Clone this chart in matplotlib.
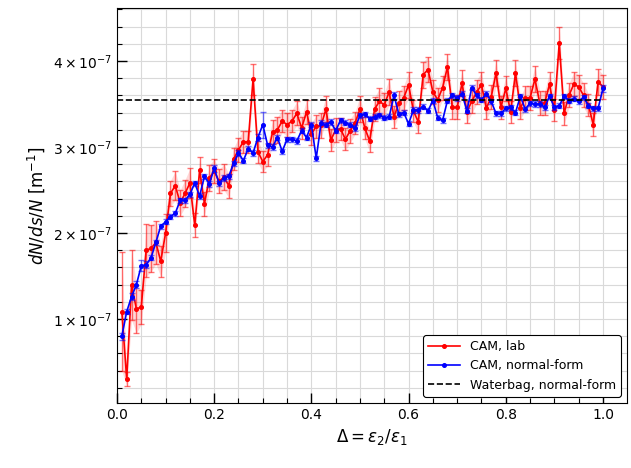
import numpy as np
import matplotlib
matplotlib.use("Agg")
import matplotlib.pyplot as plt
from matplotlib.ticker import MultipleLocator, FuncFormatter

# Delta values
delta = [i / 100 for i in range(1, 101)]

# CAM, lab (units of 1e-7 m^-1)
cam_lab = [1.085, 0.30, 1.395, 1.116, 1.14, 1.80, 1.82, 1.89, 1.67, 2.00,
           2.46, 2.55, 2.35, 2.46, 2.58, 2.09, 2.73, 2.34, 2.64, 2.72,
           2.60, 2.65, 2.55, 2.86, 2.965, 3.06, 3.06, 3.79, 2.945, 2.83,
           2.91, 3.17, 3.20, 3.30, 3.26, 3.30, 3.39, 3.22, 3.41, 3.15,
           3.24, 3.25, 3.44, 3.08, 3.20, 3.21, 3.09, 3.19, 3.28, 3.44,
           3.22, 3.07, 3.44, 3.53, 3.49, 3.64, 3.35, 3.51, 3.57, 3.72,
           3.42, 3.29, 3.84, 3.90, 3.64, 3.55, 3.69, 3.93, 3.46, 3.46,
           3.74, 3.41, 3.53, 3.64, 3.72, 3.45, 3.58, 3.86, 3.46, 3.68,
           3.41, 3.86, 3.45, 3.57, 3.57, 3.79, 3.51, 3.51, 3.73, 3.43,
           4.21, 3.39, 3.60, 3.73, 3.70, 3.60, 3.49, 3.26, 3.76, 3.70]
cam_lab_err = [0.69, 0.08, 0.41, 0.28, 0.20, 0.31, 0.27, 0.25, 0.18, 0.22,
               0.15, 0.17, 0.15, 0.16, 0.17, 0.14, 0.15, 0.14, 0.15, 0.14,
               0.14, 0.15, 0.14, 0.13, 0.14, 0.13, 0.13, 0.18, 0.13, 0.12,
               0.13, 0.14, 0.15, 0.13, 0.14, 0.13, 0.14, 0.13, 0.14, 0.13,
               0.13, 0.14, 0.15, 0.13, 0.14, 0.13, 0.13, 0.14, 0.13, 0.15,
               0.13, 0.13, 0.14, 0.15, 0.14, 0.15, 0.13, 0.14, 0.14, 0.15,
               0.13, 0.13, 0.15, 0.15, 0.14, 0.14, 0.14, 0.15, 0.13, 0.14,
               0.15, 0.13, 0.14, 0.14, 0.15, 0.13, 0.14, 0.15, 0.13, 0.14,
               0.13, 0.15, 0.13, 0.14, 0.14, 0.15, 0.14, 0.14, 0.14, 0.13,
               0.19, 0.13, 0.14, 0.14, 0.14, 0.14, 0.13, 0.13, 0.15, 0.14]

# CAM, normal-form (units of 1e-7 m^-1)
cam_nf = [0.80, 1.085, 1.26, 1.40, 1.62, 1.63, 1.71, 1.89, 2.08, 2.13,
          2.19, 2.23, 2.38, 2.38, 2.45, 2.58, 2.43, 2.66, 2.57, 2.75,
          2.58, 2.64, 2.66, 2.81, 2.93, 2.84, 2.98, 2.93, 3.11, 3.26,
          3.02, 3.00, 3.11, 2.95, 3.09, 3.09, 3.07, 3.19, 3.11, 3.26,
          2.87, 3.28, 3.26, 3.29, 3.19, 3.31, 3.28, 3.26, 3.22, 3.37,
          3.38, 3.33, 3.35, 3.37, 3.34, 3.35, 3.60, 3.38, 3.40, 3.27,
          3.43, 3.43, 3.47, 3.42, 3.54, 3.34, 3.31, 3.54, 3.60, 3.57,
          3.62, 3.42, 3.69, 3.60, 3.55, 3.62, 3.53, 3.39, 3.39, 3.45,
          3.46, 3.40, 3.59, 3.44, 3.51, 3.50, 3.50, 3.46, 3.59, 3.46,
          3.48, 3.59, 3.54, 3.56, 3.53, 3.58, 3.48, 3.45, 3.45, 3.68]
cam_nf_err = [0.04, 0.03, 0.04, 0.04, 0.06, 0.04, 0.03, 0.03, 0.03, 0.03,
              0.03, 0.03, 0.03, 0.03, 0.03, 0.03, 0.03, 0.03, 0.03, 0.04,
              0.03, 0.03, 0.03, 0.03, 0.03, 0.03, 0.03, 0.03, 0.04, 0.15,
              0.03, 0.03, 0.03, 0.03, 0.03, 0.03, 0.03, 0.03, 0.03, 0.03,
              0.03, 0.03, 0.03, 0.03, 0.03, 0.03, 0.03, 0.03, 0.03, 0.03,
              0.03, 0.03, 0.03, 0.03, 0.03, 0.03, 0.04, 0.03, 0.03, 0.03,
              0.03, 0.03, 0.03, 0.03, 0.03, 0.03, 0.03, 0.03, 0.03, 0.03,
              0.03, 0.03, 0.03, 0.03, 0.03, 0.03, 0.03, 0.03, 0.03, 0.03,
              0.03, 0.03, 0.03, 0.03, 0.03, 0.03, 0.03, 0.03, 0.03, 0.03,
              0.03, 0.03, 0.03, 0.03, 0.03, 0.03, 0.03, 0.03, 0.03, 0.04]

waterbag_level = 3.55
waterbag_x = [0.0, 1.0]
scale = 1e-7

x = np.array(delta)
yl = np.array(cam_lab) * scale
el = np.array(cam_lab_err) * scale
yn = np.array(cam_nf) * scale
en = np.array(cam_nf_err) * scale

fig = plt.figure(figsize=(6.31, 4.68), dpi=100)
ax = fig.add_axes([0.1854, 0.1389, 0.8083, 0.8440])

ax.grid(True, which='both', color='#d9d9d9', lw=0.8, zorder=0)
ax.set_axisbelow(True)

ax.fill_between(x, yl - el, yl + el, color='red', alpha=0.15, lw=0, zorder=1)
ax.errorbar(x, yl, yerr=el, fmt='none', ecolor=(1, 0, 0, 0.55), elinewidth=1.0,
            capsize=2.2, capthick=1.0, zorder=2)
ax.plot(x, yl, '-o', color='red', lw=1.2, ms=2.6, zorder=3, label='CAM, lab')

ax.errorbar(x, yn, yerr=en, fmt='none', ecolor=(0, 0, 1, 0.55), elinewidth=1.0,
            capsize=2.2, capthick=1.0, zorder=4)
ax.plot(x, yn, '-o', color='blue', lw=1.2, ms=2.6, zorder=5, label='CAM, normal-form')

ax.plot(waterbag_x, [waterbag_level * scale] * 2, '--', color='black', lw=1.2,
        zorder=6, label='Waterbag, normal-form')

ax.set_xlim(0, 1.0495)
ax.set_ylim(0.023e-7, 4.616e-7)

ax.xaxis.set_major_locator(MultipleLocator(0.2))
ax.xaxis.set_minor_locator(MultipleLocator(0.05))
ax.yaxis.set_major_locator(MultipleLocator(1e-7))
ax.yaxis.set_minor_locator(MultipleLocator(0.2e-7))


def yfmt(v, pos):
    m = v / 1e-7
    return r'$%d\times10^{-7}$' % round(m)


ax.yaxis.set_major_formatter(FuncFormatter(yfmt))
ax.xaxis.set_major_formatter(FuncFormatter(lambda v, p: '%.1f' % v))

ax.tick_params(which='both', direction='in', top=False, right=False, labelsize=10)
ax.tick_params(which='major', length=7, width=1)
ax.tick_params(which='minor', length=3.5, width=0.8)

ax.set_xlabel(r'$\Delta = \varepsilon_2/\varepsilon_1$', fontsize=12)
ax.set_ylabel(r'$dN/ds/N$ [m$^{-1}$]', fontsize=12)

leg = ax.legend(loc='lower right', fontsize=9, numpoints=1, framealpha=1,
                edgecolor='black', fancybox=True, handlelength=2.5)
leg.get_frame().set_linewidth(0.8)

fig.savefig('out.png', dpi=100)
